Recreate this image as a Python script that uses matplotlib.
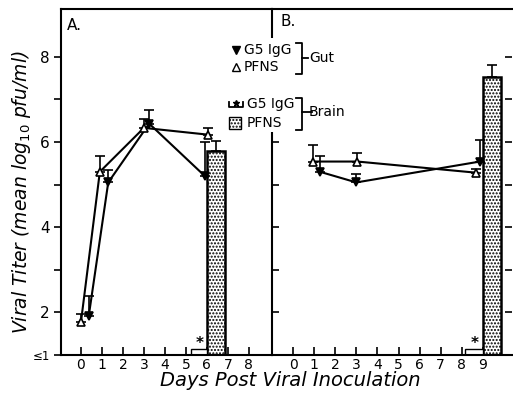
import matplotlib
matplotlib.use("Agg")
import matplotlib.pyplot as plt
from matplotlib.lines import Line2D
from matplotlib.patches import Rectangle

# Panel A (gut + brain, day 6)
a_g5_days = [0.37, 1.3, 3.25, 5.9]
a_g5_vals = [1.91, 5.05, 6.43, 5.2]
a_g5_err = [0.47, 0.30, 0.33, 0.80]
a_pf_days = [0.0, 0.9, 3.0, 6.07]
a_pf_vals = [1.77, 5.3, 6.33, 6.17]
a_pf_err = [0.19, 0.38, 0.22, 0.16]
a_brain_pf = (6.0, 5.78, 0.25)      # day, value, error
a_brain_g5 = (5.25, 1.0)            # day, value (≤1)

# Panel B (gut + brain, day 9)
b_g5_days = [1.27, 3.0, 8.86]
b_g5_vals = [5.3, 5.05, 5.54]
b_g5_err = [0.38, 0.19, 0.51]
b_pf_days = [0.94, 3.05, 8.65]
b_pf_vals = [5.54, 5.54, 5.28]
b_pf_err = [0.38, 0.21, 0.08]
b_brain_pf = (9.0, 7.53, 0.28)
b_brain_g5 = (8.15, 1.0)

W, H = 513, 397
fig = plt.figure(figsize=(W / 100, H / 100), dpi=100)
fig.patch.set_facecolor("white")
plt.rcParams["hatch.linewidth"] = 1.0


def fx(x):
    return x / W


def fy(y):
    return 1 - y / H


y_bot, y_top = 355, 9
axA = fig.add_axes([fx(61), fy(y_bot), fx(272) - fx(61), fy(y_top) - fy(y_bot)])
axB = fig.add_axes([fx(272), fy(y_bot), fx(512) - fx(272), fy(y_top) - fy(y_bot)])

ylim = (1.0, 9.12)
bw = 0.85
STIPPLE = "....."


def draw_series(ax, days, vals, errs, marker, mfc):
    ax.plot(days, vals, "-", color="black", lw=1.5, zorder=3)
    ax.errorbar(days, vals, yerr=[[0] * len(errs), errs], fmt="none",
                ecolor="black", elinewidth=1.2, capsize=3.5, capthick=1.2, zorder=3)
    ax.plot(days, vals, marker, mfc=mfc, mec="black", mew=1.2, ms=6,
            ls="none", zorder=4)


def draw_brain(ax, pf, g5):
    d, v, e = pf
    ax.bar(d, v - 1, bw, bottom=1, align="edge", color="white", edgecolor="black",
           lw=1.8, hatch=STIPPLE, zorder=2)
    ax.errorbar(d + bw / 2, v, yerr=[[0], [e]], fmt="none", ecolor="black",
                elinewidth=1.2, capsize=3.5, capthick=1.2, zorder=3)
    gd, gv = g5
    ax.bar(gd, 0.13, d - gd, bottom=gv, align="edge", color="white",
           edgecolor="black", lw=1.0, zorder=2)
    ax.text(gd + (d - gd) * 0.55, gv + 0.1, "*", ha="center", va="bottom",
            fontsize=11, fontweight="bold")


draw_series(axA, a_pf_days, a_pf_vals, a_pf_err, "^", "white")
draw_series(axA, a_g5_days, a_g5_vals, a_g5_err, "v", "black")
draw_brain(axA, a_brain_pf, a_brain_g5)

draw_series(axB, b_pf_days, b_pf_vals, b_pf_err, "^", "white")
draw_series(axB, b_g5_days, b_g5_vals, b_g5_err, "v", "black")
draw_brain(axB, b_brain_pf, b_brain_g5)

axA.set_xlim(-0.95, 9.1)
axB.set_xlim(-1.0, 10.38)
for ax in (axA, axB):
    ax.set_ylim(*ylim)
    ax.set_xticks(range(0, 10 if ax is axB else 9))
    ax.tick_params(axis="x", direction="in", length=6, width=1.2, labelsize=10, pad=2)
    for s in ax.spines.values():
        s.set_linewidth(1.5)

axA.spines["right"].set_visible(False)
axA.set_yticks([1, 2, 3, 4, 5, 6, 7, 8])
axA.set_yticklabels(["≤1", "2", "", "4", "", "6", "", "8"])
axA.tick_params(axis="y", direction="out", length=5, width=1.2, labelsize=11, pad=3)
axA.get_yticklabels()[0].set_fontsize(8.5)

axB.spines["right"].set_visible(False)
axB.set_yticks([2, 3, 4, 5, 6, 7, 8])
axB.tick_params(axis="y", direction="in", length=5, width=1.2, left=True,
                right=True, labelleft=False)

axA.text(0.03, 0.975, "A.", transform=axA.transAxes, ha="left", va="top", fontsize=11)
axB.text(0.035, 0.985, "B.", transform=axB.transAxes, ha="left", va="top", fontsize=11)

fig.text(fx(22), fy(192), "Viral Titer (mean log$_{10}$ pfu/ml)", rotation=90,
         ha="center", va="center", fontsize=13.5, style="italic")
fig.text(fx(290), fy(381), "Days Post Viral Inoculation", ha="center", va="center",
         fontsize=14, style="italic")

# legend block (covers the divider line)
fig.patches.append(Rectangle((fx(226), fy(132)), fx(345) - fx(226), fy(38) - fy(132),
                             transform=fig.transFigure, facecolor="white",
                             edgecolor="none", zorder=5))


def ln(xs, ys, **kw):
    fig.add_artist(Line2D([fx(x) for x in xs], [fy(y) for y in ys], color="black",
                          lw=kw.pop("lw", 1.3), zorder=6, **kw))


ln([236], [50], marker="v", ms=6, mfc="black", mec="black", ls="none")
ln([236], [67], marker="^", ms=5.5, mfc="white", mec="black", mew=1.0, ls="none")
fig.text(fx(244), fy(50), "G5 IgG", ha="left", va="center", fontsize=10, zorder=6)
fig.text(fx(244), fy(67), "PFNS", ha="left", va="center", fontsize=10, zorder=6)
ln([296, 302, 302, 296], [43, 43, 74, 74])
ln([302, 308], [58, 58])
fig.text(fx(309), fy(58), "Gut", ha="left", va="center", fontsize=10, zorder=6)

ln([229, 229, 243, 243], [102, 107, 107, 102])
ln([236], [103], marker="*", ms=5, mfc="black", mec="black", ls="none")
fig.text(fx(247), fy(104), "G5 IgG", ha="left", va="center", fontsize=10, zorder=6)
fig.patches.append(Rectangle((fx(229), fy(129)), fx(241) - fx(229), fy(117) - fy(129),
                             transform=fig.transFigure, facecolor="white",
                             edgecolor="black", lw=1.0, hatch=STIPPLE, zorder=6))
fig.text(fx(247), fy(123), "PFNS", ha="left", va="center", fontsize=10, zorder=6)
ln([296, 302, 302, 296], [98, 98, 130, 130])
ln([302, 312], [112, 112])
fig.text(fx(309), fy(112), "Brain", ha="left", va="center", fontsize=10, zorder=6)

fig.savefig("out.png", dpi=100)
